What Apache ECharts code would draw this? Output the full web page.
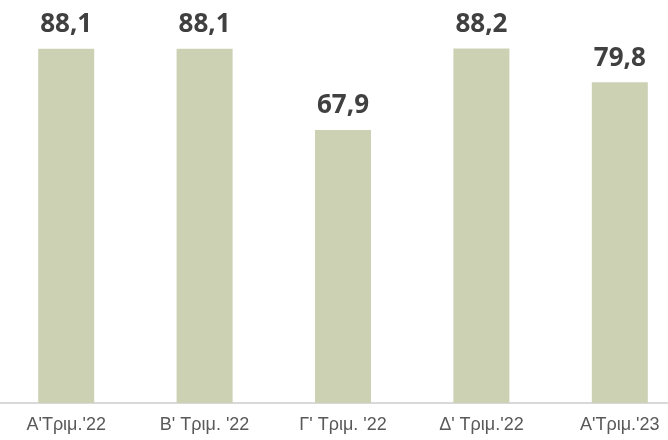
<!DOCTYPE html>
<html>
<head>
<meta charset="utf-8">
<script src="https://cdn.jsdelivr.net/npm/echarts@6/dist/echarts.min.js"></script>
<style>
  html, body { margin: 0; padding: 0; background: #fff; }
  #chart { width: 668px; height: 440px; }
</style>
</head>
<body>
<div id="chart"></div>
<script>
var categories = ["Α'Τριμ.'22", "Β' Τριμ. '22", "Γ' Τριμ. '22", "Δ' Τριμ.'22", "Α'Τριμ.'23"];
var values = [88.1, 88.1, 67.9, 88.2, 79.8];

var myChart = echarts.init(document.getElementById('chart'));
var option = {
  animation: false,
  grid: {
    left: -3,
    right: -21,
    top: 1,
    bottom: 37,
    containLabel: false,
    outerBoundsMode: 'none'
  },
  xAxis: {
    type: 'category',
    data: categories,
    axisTick: { show: false },
    axisLine: { lineStyle: { color: '#d9d9d9', width: 2 } },
    axisLabel: {
      color: '#595959',
      fontFamily: 'Liberation Sans',
      fontSize: 18,
      margin: 13,
      interval: 0
    }
  },
  yAxis: {
    type: 'value',
    min: 0,
    max: 100,
    show: false,
    splitLine: { show: false }
  },
  series: [{
    type: 'bar',
    data: values,
    barWidth: 56,
    itemStyle: { color: '#cdd1b4' },
    label: {
      show: true,
      position: 'top',
      distance: 11,
      color: '#404040',
      fontFamily: 'Open Sans',
      fontWeight: 'bold',
      fontSize: 26,
      formatter: function (p) {
        return p.value.toFixed(1).replace('.', ',');
      }
    }
  }]
};
myChart.setOption(option);
</script>
</body>
</html>
